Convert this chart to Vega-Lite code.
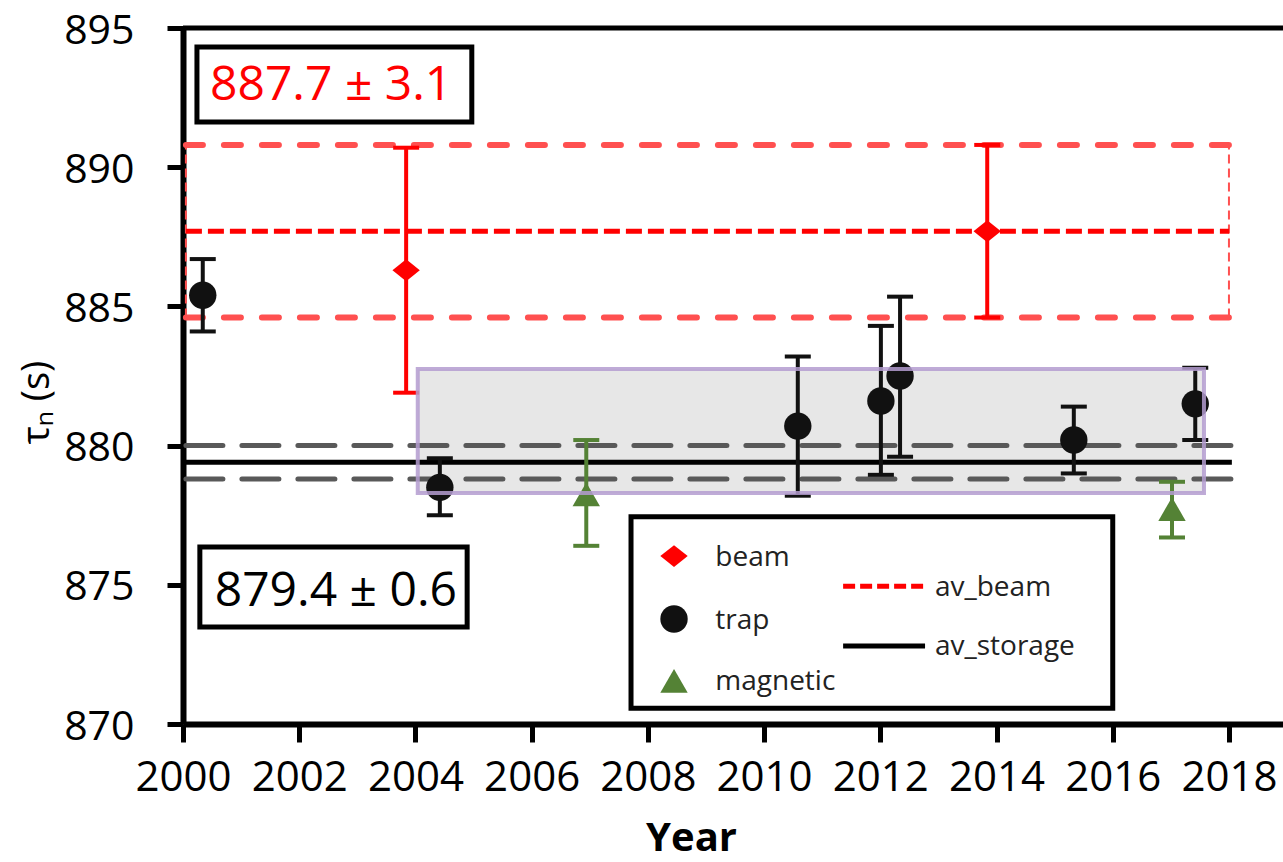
{
  "$schema": "https://vega.github.io/schema/vega-lite/v6.json",
  "width": 1100,
  "height": 696,
  "autosize": {"type": "none"},
  "padding": {"left": 183, "top": 28, "right": 0, "bottom": 138},
  "background": "white",
  "config": {"view": {"stroke": null}, "font": "Open Sans"},
  "datasets": {
    "measurements": [
      {"x": 2000.34, "y": 885.4, "type": "trap"},
      {"x": 2003.84, "y": 886.3, "type": "beam"},
      {"x": 2004.42, "y": 878.5, "type": "trap"},
      {"x": 2006.94, "y": 878.25, "type": "magnetic"},
      {"x": 2010.58, "y": 880.7, "type": "trap"},
      {"x": 2012.01, "y": 881.6, "type": "trap"},
      {"x": 2012.34, "y": 882.5, "type": "trap"},
      {"x": 2013.84, "y": 887.7, "type": "beam"},
      {"x": 2015.33, "y": 880.2, "type": "trap"},
      {"x": 2017.02, "y": 877.72, "type": "magnetic"},
      {"x": 2017.42, "y": 881.5, "type": "trap"}
    ],
    "errbars": [
      {"x": 2000.34, "y": 884.1, "y2": 886.7, "type": "trap"},
      {"x": 2003.84, "y": 881.9, "y2": 890.7, "type": "beam"},
      {"x": 2004.42, "y": 877.5, "y2": 879.55, "type": "trap"},
      {"x": 2006.94, "y": 876.4, "y2": 880.2, "type": "magnetic"},
      {"x": 2010.58, "y": 878.2, "y2": 883.2, "type": "trap"},
      {"x": 2012.01, "y": 878.95, "y2": 884.3, "type": "trap"},
      {"x": 2012.34, "y": 879.6, "y2": 885.35, "type": "trap"},
      {"x": 2013.84, "y": 884.6, "y2": 890.8, "type": "beam"},
      {"x": 2015.33, "y": 879.0, "y2": 881.4, "type": "trap"},
      {"x": 2017.02, "y": 876.7, "y2": 878.7, "type": "magnetic"},
      {"x": 2017.42, "y": 880.2, "y2": 882.8, "type": "trap"}
    ],
    "caps": [
      {"x": 2000.34, "y": 884.1, "type": "trap"},
      {"x": 2000.34, "y": 886.7, "type": "trap"},
      {"x": 2003.84, "y": 881.9, "type": "beam"},
      {"x": 2003.84, "y": 890.7, "type": "beam"},
      {"x": 2004.42, "y": 877.5, "type": "trap"},
      {"x": 2004.42, "y": 879.55, "type": "trap"},
      {"x": 2006.94, "y": 876.4, "type": "magnetic"},
      {"x": 2006.94, "y": 880.2, "type": "magnetic"},
      {"x": 2010.58, "y": 878.2, "type": "trap"},
      {"x": 2010.58, "y": 883.2, "type": "trap"},
      {"x": 2012.01, "y": 878.95, "type": "trap"},
      {"x": 2012.01, "y": 884.3, "type": "trap"},
      {"x": 2012.34, "y": 879.6, "type": "trap"},
      {"x": 2012.34, "y": 885.35, "type": "trap"},
      {"x": 2013.84, "y": 884.6, "type": "beam"},
      {"x": 2013.84, "y": 890.8, "type": "beam"},
      {"x": 2015.33, "y": 879.0, "type": "trap"},
      {"x": 2015.33, "y": 881.4, "type": "trap"},
      {"x": 2017.02, "y": 876.7, "type": "magnetic"},
      {"x": 2017.02, "y": 878.7, "type": "magnetic"},
      {"x": 2017.42, "y": 880.2, "type": "trap"},
      {"x": 2017.42, "y": 882.8, "type": "trap"}
    ],
    "hlines": [
      {"x": 2000.05, "x2": 2018.0, "y": 890.8, "kind": "band_beam"},
      {"x": 2000.05, "x2": 2018.0, "y": 884.6, "kind": "band_beam"},
      {"x": 2000.05, "x2": 2018.0, "y": 887.7, "kind": "av_beam"},
      {"x": 2000.05, "x2": 2018.05, "y": 880.0, "kind": "band_storage"},
      {"x": 2000.05, "x2": 2018.05, "y": 878.8, "kind": "band_storage"},
      {"x": 2000.05, "x2": 2018.05, "y": 879.4, "kind": "av_storage"},
      {"x": 2000.0, "x2": 2018.93, "y": 895.0, "kind": "frame"}
    ],
    "vlines": [
      {"x": 2000.05, "y": 884.6, "y2": 890.8},
      {"x": 2018.0, "y": 884.6, "y2": 890.8}
    ],
    "rects": [
      {"x": 2004.04, "x2": 2017.57, "y": 878.3, "y2": 882.75, "kind": "storage_box"},
      {"x": 2000.24, "x2": 2004.97, "y": 891.62, "y2": 894.32, "kind": "label_box"},
      {"x": 2000.29, "x2": 2004.89, "y": 873.48, "y2": 876.36, "kind": "label_box"},
      {"x": 2007.71, "x2": 2016.0, "y": 870.57, "y2": 877.44, "kind": "legend_box"}
    ],
    "labels": [
      {"x": 2002.55, "y": 892.93, "text": "887.7 ± 3.1", "kind": "beam"},
      {"x": 2002.63, "y": 874.74, "text": "879.4 ± 0.6", "kind": "storage"}
    ],
    "legend_symbols": [
      {"x": 2008.45, "y": 876.03, "type": "beam"},
      {"x": 2008.45, "y": 873.77, "type": "trap"},
      {"x": 2008.45, "y": 871.55, "type": "magnetic"}
    ],
    "legend_lines": [
      {"x": 2011.36, "x2": 2012.77, "y": 874.95, "kind": "av_beam"},
      {"x": 2011.36, "x2": 2012.77, "y": 872.8, "kind": "av_storage"}
    ],
    "legend_texts": [
      {"x": 2009.16, "y": 875.96, "text": "beam"},
      {"x": 2009.16, "y": 873.7, "text": "trap"},
      {"x": 2009.16, "y": 871.5, "text": "magnetic"},
      {"x": 2012.94, "y": 874.9, "text": "av_beam"},
      {"x": 2012.94, "y": 872.75, "text": "av_storage"}
    ]
  },
  "encoding": {
    "x": {
      "field": "x", "type": "quantitative",
      "scale": {"domain": [2000, 2018.93], "nice": false, "zero": false},
      "axis": {
        "title": "Year",
        "values": [2000, 2002, 2004, 2006, 2008, 2010, 2012, 2014, 2016, 2018],
        "format": "d",
        "grid": false,
        "labelFont": "Open Sans", "labelFontSize": 42, "labelColor": "#000000",
        "labelPadding": 15, "labelFlush": false, "labelOverlap": false,
        "tickSize": 18, "tickWidth": 5, "tickColor": "#000000",
        "domainColor": "#000000", "domainWidth": 6,
        "titleFont": "Open Sans", "titleFontSize": 40, "titleFontWeight": "bold", "titleColor": "#000000",
        "titleX": 508, "titleY": 94, "titleBaseline": "top", "titleAlign": "center"
      }
    },
    "y": {
      "field": "y", "type": "quantitative",
      "scale": {"domain": [870, 895], "nice": false, "zero": false},
      "axis": {
        "title": "τₙ (s)",
        "values": [870, 875, 880, 885, 890, 895],
        "grid": false,
        "labelFont": "Open Sans", "labelFontSize": 41, "labelColor": "#000000",
        "labelPadding": 33, "labelOverlap": false, "labelOffset": 3,
        "tickSize": 16, "tickWidth": 5, "tickColor": "#000000",
        "domainColor": "#000000", "domainWidth": 6,
        "titleFont": "Open Sans", "titleFontSize": 38, "titleFontWeight": "normal", "titleColor": "#000000",
        "titleX": -146, "titleY": 374, "titleAngle": -90, "titleAlign": "center", "titleBaseline": "middle"
      }
    }
  },
  "layer": [
    {
      "data": {"name": "rects"},
      "transform": [{"filter": "datum.kind === 'storage_box'"}],
      "mark": {"type": "rect", "fill": "#e7e7e7"},
      "encoding": {"x2": {"field": "x2"}, "y2": {"field": "y2"}}
    },
    {
      "data": {"name": "vlines"},
      "mark": {"type": "rule", "color": "#ff5050", "strokeWidth": 2, "strokeDash": [9, 5]},
      "encoding": {"y2": {"field": "y2"}}
    },
    {
      "data": {"name": "hlines"},
      "transform": [{"filter": "datum.kind === 'band_beam'"}],
      "mark": {"type": "rule", "color": "#ff5050", "strokeWidth": 6, "strokeDash": [17, 21], "strokeCap": "round"},
      "encoding": {"x2": {"field": "x2"}}
    },
    {
      "data": {"name": "hlines"},
      "transform": [{"filter": "datum.kind === 'av_beam'"}],
      "mark": {"type": "rule", "color": "#ff0000", "strokeWidth": 5, "strokeDash": [16, 6]},
      "encoding": {"x2": {"field": "x2"}}
    },
    {
      "data": {"name": "hlines"},
      "transform": [{"filter": "datum.kind === 'band_storage'"}],
      "mark": {"type": "rule", "color": "#595959", "strokeWidth": 5, "strokeDash": [37, 19], "strokeCap": "round"},
      "encoding": {"x2": {"field": "x2"}}
    },
    {
      "data": {"name": "hlines"},
      "transform": [{"filter": "datum.kind === 'av_storage'"}],
      "mark": {"type": "rule", "color": "#000000", "strokeWidth": 5},
      "encoding": {"x2": {"field": "x2"}}
    },
    {
      "data": {"name": "errbars"},
      "mark": {"type": "rule", "strokeWidth": 4},
      "encoding": {
        "y2": {"field": "y2"},
        "color": {"field": "type", "type": "nominal", "scale": {"domain": ["beam", "trap", "magnetic"], "range": ["#ff0000", "#111111", "#548235"]}, "legend": null}
      }
    },
    {
      "data": {"name": "caps"},
      "mark": {"type": "tick", "orient": "horizontal", "size": 26, "thickness": 4, "opacity": 1},
      "encoding": {
        "color": {"field": "type", "type": "nominal", "legend": null}
      }
    },
    {
      "data": {"name": "measurements"},
      "mark": {"type": "point", "filled": true, "opacity": 1, "size": 750},
      "encoding": {
        "color": {"field": "type", "type": "nominal", "legend": null},
        "shape": {"field": "type", "type": "nominal", "scale": {"domain": ["beam", "trap", "magnetic"], "range": ["M-1,0L0,-0.8L1,0L0,0.8Z", "circle", "triangle-up"]}, "legend": null}
      }
    },
    {
      "data": {"name": "rects"},
      "transform": [{"filter": "datum.kind === 'storage_box'"}],
      "mark": {"type": "rect", "fill": "#ffffff", "fillOpacity": 0, "stroke": "#b49cd0", "strokeWidth": 4, "strokeOpacity": 0.85},
      "encoding": {"x2": {"field": "x2"}, "y2": {"field": "y2"}}
    },
    {
      "data": {"name": "rects"},
      "transform": [{"filter": "datum.kind === 'label_box' || datum.kind === 'legend_box'"}],
      "mark": {"type": "rect", "fill": "#ffffff", "stroke": "#000000", "strokeWidth": 5},
      "encoding": {"x2": {"field": "x2"}, "y2": {"field": "y2"}}
    },
    {
      "data": {"name": "labels"},
      "transform": [{"filter": "datum.kind === 'beam'"}],
      "mark": {"type": "text", "font": "Open Sans", "fontSize": 48, "color": "#ff0000", "align": "center", "baseline": "middle"},
      "encoding": {"text": {"field": "text"}}
    },
    {
      "data": {"name": "labels"},
      "transform": [{"filter": "datum.kind === 'storage'"}],
      "mark": {"type": "text", "font": "Open Sans", "fontSize": 48, "color": "#000000", "align": "center", "baseline": "middle"},
      "encoding": {"text": {"field": "text"}}
    },
    {
      "data": {"name": "legend_symbols"},
      "mark": {"type": "point", "filled": true, "opacity": 1, "size": 750},
      "encoding": {
        "color": {"field": "type", "type": "nominal", "legend": null},
        "shape": {"field": "type", "type": "nominal", "legend": null}
      }
    },
    {
      "data": {"name": "legend_lines"},
      "transform": [{"filter": "datum.kind === 'av_beam'"}],
      "mark": {"type": "rule", "color": "#ff0000", "strokeWidth": 5, "strokeDash": [12, 5]},
      "encoding": {"x2": {"field": "x2"}}
    },
    {
      "data": {"name": "legend_lines"},
      "transform": [{"filter": "datum.kind === 'av_storage'"}],
      "mark": {"type": "rule", "color": "#000000", "strokeWidth": 5},
      "encoding": {"x2": {"field": "x2"}}
    },
    {
      "data": {"name": "legend_texts"},
      "mark": {"type": "text", "font": "Open Sans", "fontSize": 28, "color": "#222222", "align": "left", "baseline": "middle"},
      "encoding": {"text": {"field": "text"}}
    },
    {
      "data": {"name": "hlines"},
      "transform": [{"filter": "datum.kind === 'frame'"}],
      "mark": {"type": "rule", "color": "#000000", "strokeWidth": 5},
      "encoding": {"x2": {"field": "x2"}}
    }
  ]
}
